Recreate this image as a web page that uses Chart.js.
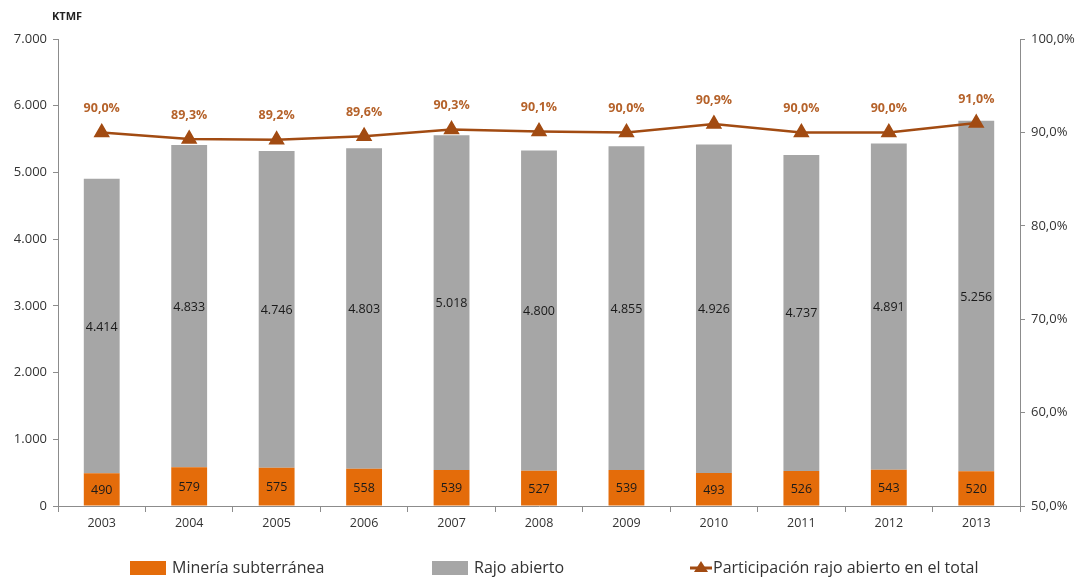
<!DOCTYPE html>
<html>
<head>
<meta charset="utf-8">
<script src="https://cdn.jsdelivr.net/npm/chart.js@4/dist/chart.umd.min.js"></script>
<style>
  html, body { margin: 0; padding: 0; background: #fff; }
  #wrap { width: 1084px; height: 577px; }
</style>
</head>
<body>
<div id="wrap"><canvas id="chart" width="1084" height="577"></canvas></div>
<script>
// data
var years = ['2003', '2004', '2005', '2006', '2007', '2008', '2009', '2010', '2011', '2012', '2013'];
var subterranea = [490, 579, 575, 558, 539, 527, 539, 493, 526, 543, 520];
var rajoAbierto = [4414, 4833, 4746, 4803, 5018, 4800, 4855, 4926, 4737, 4891, 5256];
var participacion = [90.0, 89.3, 89.2, 89.6, 90.3, 90.1, 90.0, 90.9, 90.0, 90.0, 91.0];

var FONT = "'Open Sans', 'Noto Sans', sans-serif";
var ORANGE = '#E46C0A';
var GRAY = '#A6A6A6';
var BROWN = '#A24B12';

function miles(v) {
    return String(v).replace(/\B(?=(\d{3})+(?!\d))/g, '.');
}
function pct(v) {
    return v.toFixed(1).replace('.', ',') + '%';
}

// labels on bars and line points, plus KTMF and legend
var extras = {
    id: 'extras',
    afterDraw: function(chart) {
        var ctx = chart.ctx;
        ctx.save();
        ctx.textAlign = 'center';
        ctx.textBaseline = 'middle';

        ctx.font = '12.5px ' + FONT;
        ctx.fillStyle = '#1a1a1a';
        [0, 1].forEach(function(di) {
            var meta = chart.getDatasetMeta(di);
            meta.data.forEach(function(bar, i) {
                var yMid = (bar.y + bar.base) / 2;
                ctx.fillText(miles(chart.data.datasets[di].data[i]), bar.x, yMid + 1);
            });
        });

        ctx.font = 'bold 12.5px ' + FONT;
        ctx.fillStyle = '#B5622A';
        chart.getDatasetMeta(2).data.forEach(function(pt, i) {
            ctx.fillText(pct(participacion[i]), pt.x, pt.y - 24);
        });

        // axis title
        ctx.font = 'bold 11px ' + FONT;
        ctx.fillStyle = '#222';
        ctx.textAlign = 'left';
        ctx.fillText('KTMF', 52, 17);

        // legend
        var ly = 568;
        ctx.font = '16px ' + FONT;
        ctx.fillStyle = ORANGE;
        ctx.fillRect(130, ly - 7, 36, 14);
        ctx.fillStyle = GRAY;
        ctx.fillRect(432, ly - 7, 36, 14);
        ctx.fillStyle = '#333';
        ctx.fillText('Minería subterránea', 172, ly);
        ctx.fillText('Rajo abierto', 474, ly);
        ctx.fillText('Participación rajo abierto en el total', 713, ly);
        ctx.strokeStyle = BROWN;
        ctx.lineWidth = 3;
        ctx.beginPath();
        ctx.moveTo(690, ly);
        ctx.lineTo(712, ly);
        ctx.stroke();
        ctx.fillStyle = BROWN;
        ctx.beginPath();
        ctx.moveTo(701, ly - 7);
        ctx.lineTo(708, ly + 4);
        ctx.lineTo(694, ly + 4);
        ctx.closePath();
        ctx.fill();
        ctx.restore();
    }
};

new Chart(document.getElementById('chart'), {
    type: 'bar',
    data: {
        labels: years,
        datasets: [{
            label: 'Minería subterránea',
            data: subterranea,
            backgroundColor: ORANGE,
            stack: 's',
            yAxisID: 'y',
            barPercentage: 0.41,
            categoryPercentage: 1,
            order: 2
        }, {
            label: 'Rajo abierto',
            data: rajoAbierto,
            backgroundColor: GRAY,
            stack: 's',
            yAxisID: 'y',
            barPercentage: 0.41,
            categoryPercentage: 1,
            order: 2
        }, {
            type: 'line',
            label: 'Participación rajo abierto en el total',
            data: participacion,
            yAxisID: 'y1',
            borderColor: BROWN,
            borderWidth: 2.5,
            backgroundColor: BROWN,
            pointStyle: 'triangle',
            pointRadius: 7,
            pointBackgroundColor: BROWN,
            pointBorderColor: BROWN,
            tension: 0,
            order: 1
        }]
    },
    options: {
        responsive: false,
        animation: false,
        layout: { padding: { top: 39, left: 0, right: 0, bottom: 0 } },
        plugins: {
            legend: { display: false },
            tooltip: { enabled: false }
        },
        scales: {
            x: {
                stacked: true,
                offset: true,
                afterFit: function(s) { s.height = 71; },
                grid: { offset: true, drawOnChartArea: false, tickLength: 6, color: '#8c8c8c' },
                border: { color: '#8c8c8c' },
                ticks: { font: { size: 12.5, family: FONT }, color: '#333', padding: 4 }
            },
            y: {
                stacked: true,
                min: 0,
                max: 7000,
                afterFit: function(s) { s.width = 58; },
                grid: { drawOnChartArea: false, tickLength: 5, color: '#8c8c8c' },
                border: { color: '#8c8c8c' },
                ticks: {
                    stepSize: 1000,
                    font: { size: 13, family: FONT },
                    color: '#333',
                    padding: 6,
                    callback: function(v) { return miles(v); }
                }
            },
            y1: {
                position: 'right',
                min: 50,
                max: 100,
                afterFit: function(s) { s.width = 64; },
                grid: { drawOnChartArea: false, tickLength: 5, color: '#8c8c8c' },
                border: { color: '#8c8c8c' },
                ticks: {
                    stepSize: 10,
                    font: { size: 13, family: FONT },
                    color: '#333',
                    padding: 6,
                    callback: function(v) { return pct(v); }
                }
            }
        }
    },
    plugins: [extras]
});
</script>
</body>
</html>
